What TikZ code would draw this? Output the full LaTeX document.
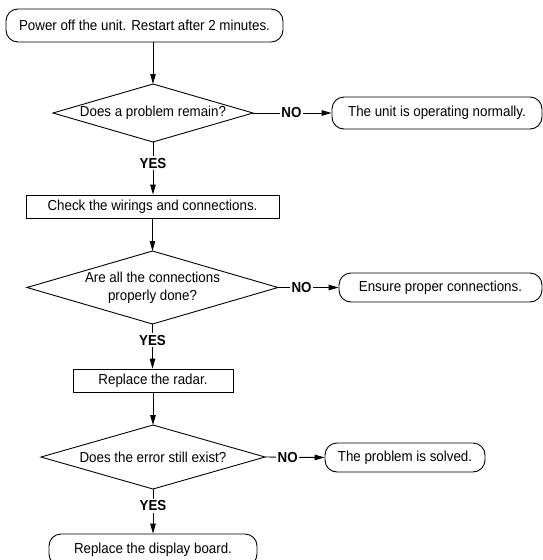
\documentclass[tikz,border=0pt]{standalone}
\usepackage{fontspec}
\setmainfont[FakeStretch=0.92]{Liberation Sans}
\usetikzlibrary{arrows.meta}
\begin{document}
\begin{tikzpicture}[x=1pt,y=-1pt, line width=0.9pt,
  font=\fontsize{14.5}{18}\selectfont,
  term/.style={draw, rounded corners=12pt, inner sep=0pt},
  proc/.style={draw, inner sep=0pt},
  dec/.style={inner sep=0pt, outer sep=0pt, align=center},
  lab/.style={fill=white, font=\fontsize{14.5}{18}\selectfont\bfseries, inner sep=1.5pt},
  arr/.style={-{Triangle[length=10pt,width=5.5pt]}}]
\useasboundingbox (0,0) rectangle (543,560);
\clip (0,0) rectangle (543,560);
% main column
\node[term, minimum width=277pt, minimum height=33pt] (n1) at (144.5,25.5) {Power off the unit. Restart after 2 minutes.};
\node[dec, minimum width=200pt, minimum height=58pt] (d1) at (153,113) {Does a problem remain?};
\node[proc, minimum width=253pt, minimum height=23pt] (b2) at (152.5,206.5) {Check the wirings and connections.};
\node[dec, minimum width=251pt, minimum height=73pt] (d2) at (152.5,287.5) {Are all the connections\\properly done?};
\node[proc, minimum width=160pt, minimum height=23pt] (b3) at (153,380.5) {Replace the radar.};
\node[dec, minimum width=224pt, minimum height=64pt] (d3) at (153,457) {Does the error still exist?};
\node[term, minimum width=208pt, minimum height=32pt] (n5) at (153,550) {Replace the display board.};
% diamond outlines
\foreach \d in {d1,d2,d3}
  \draw (\d.north) -- (\d.east) -- (\d.south) -- (\d.west) -- cycle;
% right column
\node[term, minimum width=210pt, minimum height=32pt] (r1) at (437,113) {The unit is operating normally.};
\node[term, minimum width=203pt, minimum height=29pt] (r2) at (440.5,287.5) {Ensure proper connections.};
\node[term, minimum width=160pt, minimum height=29pt] (r3) at (405,457.5) {The problem is solved.};
% connectors
\draw[arr] (d1.north |- n1.south) -- (d1.north);
\draw[arr] (d1.south) -- node[lab, pos=0.4] {YES} (b2.north -| d1.south);
\draw[arr] (d2.north |- b2.south) -- (d2.north);
\draw[arr] (d2.south) -- node[lab, pos=0.36] {YES} (b3.north -| d2.south);
\draw[arr] (d3.north |- b3.south) -- (d3.north);
\draw[arr] (d3.south) -- node[lab, pos=0.38] {YES} (n5.north -| d3.south);
\draw[arr] (d1.east) -- node[lab, pos=0.49] {NO} (r1.west);
\draw[arr] (d2.east) -- node[lab, pos=0.39] {NO} (r2.west);
\draw[arr] (d3.east) -- node[lab, pos=0.38] {NO} (r3.west);
\end{tikzpicture}
\end{document}
